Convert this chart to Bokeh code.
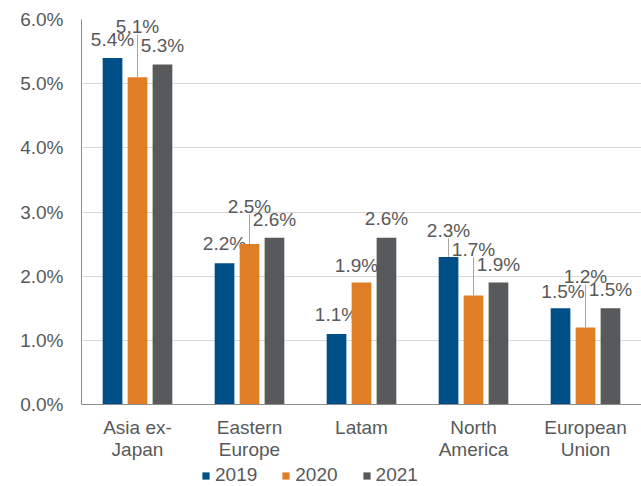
from bokeh.plotting import figure
from bokeh.layouts import column
from bokeh.models import (Range1d, FixedTicker, PrintfTickFormatter, Legend,
                          LegendItem, ColumnDataSource)
from bokeh.core.properties import value
from bokeh.embed import file_html
from bokeh.resources import INLINE

# Annual growth by region (%)
regions = ["Asia ex-\nJapan", "Eastern\nEurope", "Latam", "North\nAmerica", "European\nUnion"]
years = ["2019", "2020", "2021"]
growth_2019 = [5.4, 2.2, 1.1, 2.3, 1.5]
growth_2020 = [5.1, 2.5, 1.9, 1.7, 1.2]
growth_2021 = [5.3, 2.6, 2.6, 1.9, 1.5]
y_ticks = [0, 1, 2, 3, 4, 5, 6]

series = [growth_2019, growth_2020, growth_2021]
colors = ["#004F88", "#E07E28", "#58595B"]
text_color = "#595959"
font = "Liberation Sans"

# Data-label placement: lift of the label centre above the bar top (px) and x nudge (px)
label_lift = [
    [19, 19.5, 19, 26.5, 16.5],
    [51, 38, 17, 46, 51],
    [18.5, 18, 19, 18, 18.5],
]
label_dx = [
    [0, 0, 0, 0, 2.5],
    [0, 0, -5, 0, 0],
    [0, 0, 0, 0, 0],
]

W = 641
MAIN_H, LEGEND_H = 462, 24
BORDER_L, BORDER_R, BORDER_T, BORDER_B = 81, 0, 19, 58
frame_h = MAIN_H - BORDER_T - BORDER_B
px_per_unit = frame_h / (y_ticks[-1] - y_ticks[0])

bar_width = 0.176
offsets = [-0.223, 0.0, 0.223]

p = figure(width=W, height=MAIN_H, x_range=Range1d(-0.5, len(regions) - 0.5),
           y_range=Range1d(y_ticks[0], y_ticks[-1]),
           output_backend="svg", toolbar_location=None,
           min_border_left=BORDER_L, min_border_right=BORDER_R,
           min_border_top=BORDER_T, min_border_bottom=BORDER_B)
p.outline_line_color = None
p.background_fill_color = "white"
p.border_fill_color = "white"

for j, vals in enumerate(series):
    xs = [i + offsets[j] for i in range(len(regions))]
    src = ColumnDataSource(dict(
        x=xs, top=vals,
        label=[f"{v:.1f}%" for v in vals],
        dy=[-l for l in label_lift[j]],
        dx=label_dx[j],
    ))
    p.vbar(x="x", top="top", width=bar_width, bottom=0, source=src,
           fill_color=colors[j], line_color=None)

    # leader lines for labels lifted clear of their bar
    lx, ly0, ly1 = [], [], []
    for i, v in enumerate(vals):
        if label_lift[j][i] > 24:
            lx.append(xs[i])
            ly0.append(v)
            ly1.append(v + (label_lift[j][i] - 8) / px_per_unit)
    if lx:
        p.segment(x0=lx, y0=ly0, x1=lx, y1=ly1, line_color="#A6A6A6", line_width=1)

    p.text(x="x", y="top", text="label", source=src, x_offset="dx", y_offset="dy",
           text_align="center", text_baseline="middle",
           text_font=value(font), text_font_size="19px", text_color=text_color)

# axes
p.xaxis.ticker = FixedTicker(ticks=list(range(len(regions))))
p.xaxis.major_label_overrides = {i: name for i, name in enumerate(regions)}
p.yaxis.ticker = FixedTicker(ticks=y_ticks)
p.yaxis.formatter = PrintfTickFormatter(format="%.1f%%")
for ax in (p.xaxis[0], p.yaxis[0]):
    ax.axis_line_color = "#8C8C8C"
    ax.axis_line_width = 1
    ax.major_tick_line_color = None
    ax.minor_tick_line_color = None
    ax.major_tick_out = 0
    ax.major_tick_in = 0
    ax.major_label_text_font = font
    ax.major_label_text_font_size = "19px"
    ax.major_label_text_color = text_color
p.xaxis.major_label_standoff = 12
p.xaxis.major_label_text_line_height = 1.06
p.yaxis.major_label_standoff = 18

p.xgrid.grid_line_color = None
p.ygrid.grid_line_color = "#D9D9D9"
p.ygrid.grid_line_width = 1

# legend strip beneath the chart; its swatch bars sit outside the visible range
leg = figure(width=W, height=LEGEND_H, x_range=Range1d(0, 1), y_range=Range1d(0, 1),
             output_backend="svg", toolbar_location=None, min_border=0,
             x_axis_type=None, y_axis_type=None)
leg.outline_line_color = None
leg.xgrid.visible = False
leg.ygrid.visible = False
items = []
for j, year in enumerate(years):
    r = leg.vbar(x=[5], top=[5], bottom=[4], width=0.1,
                 fill_color=colors[j], line_color=None)
    items.append(LegendItem(label=year, renderers=[r]))

legend = Legend(items=items, orientation="horizontal", location=(120, 0),
                glyph_width=9, glyph_height=9, label_standoff=5, spacing=24,
                padding=0, margin=0, label_height=18,
                label_text_font=font, label_text_font_size="19px",
                label_text_color=text_color,
                background_fill_alpha=0, border_line_color=None)
leg.add_layout(legend, "center")

layout = column(p, leg, spacing=0)
open("out.html", "w").write(file_html(layout, INLINE))
